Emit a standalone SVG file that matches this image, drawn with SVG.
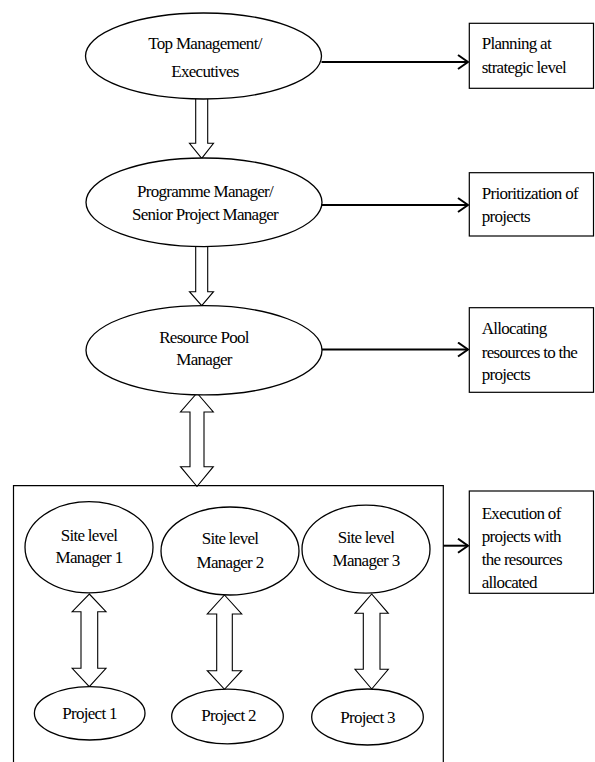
<svg xmlns="http://www.w3.org/2000/svg" width="595" height="762" viewBox="0 0 595 762">
<defs>
<style>
.t{font-family:'Liberation Serif','DejaVu Serif',serif;font-size:17px;letter-spacing:-0.7px;fill:#000}
.c{text-anchor:middle}
.n{fill:#fff;stroke:#000;stroke-width:1.3}
.b{fill:#fff;stroke:#000;stroke-width:1.2}
.blk{fill:#fff;stroke:#000;stroke-width:1.1;stroke-linejoin:miter}
.ln{fill:none;stroke:#000;stroke-width:2}
</style>
<marker id="ah" viewBox="0 0 12 16" refX="11" refY="8" markerWidth="12" markerHeight="16" markerUnits="userSpaceOnUse" orient="auto">
<path d="M1,1 L11,8 L1,15" fill="none" stroke="#000" stroke-width="2"/>
</marker>
</defs>
<rect width="595" height="762" fill="#fff"/>
<g id="connectors">
<polygon class="blk" points="195.7,95 207.7,95 207.7,143.3 213.5,143.3 201.7,158.3 189.5,143.3 195.7,143.3"/>
<polygon class="blk" points="195.7,240 207.7,240 207.7,291.7 213.5,291.7 201.7,305.7 189.5,291.7 195.7,291.7"/>
<polygon class="blk" points="197,393 213.3,412 204,412 204,466.7 213.3,466.7 197,486.5 180.5,466.7 190,466.7 190,412 180.5,412"/>
<polygon class="blk" points="89.3,594 106,611.7 97.7,611.7 97.7,668.3 106,668.3 89.3,686.7 72.2,668.3 81,668.3 81,611.7 72.2,611.7"/>
<polygon class="blk" points="224.5,595 241.7,614 232.3,614 232.3,670.7 241.7,670.7 224.5,689.3 207.3,670.7 216.7,670.7 216.7,614 207.3,614"/>
<polygon class="blk" points="371.7,594 388.3,613.3 380,613.3 380,669.3 388.3,669.3 371.7,689 355,669.3 363.3,669.3 363.3,613.3 355,613.3"/>
<line class="ln" x1="321.5" y1="62" x2="468" y2="62" marker-end="url(#ah)"/>
<line class="ln" x1="321.5" y1="205" x2="468" y2="205" marker-end="url(#ah)"/>
<line class="ln" x1="321.5" y1="349.5" x2="468" y2="349.5" marker-end="url(#ah)"/>
<line class="ln" x1="443.3" y1="545.7" x2="468" y2="545.7" marker-end="url(#ah)"/>
</g>
<g id="top-management">
<ellipse class="n" cx="203.5" cy="56" rx="118" ry="43"/>
<text class="t c" x="205" y="49">Top Management/</text>
<text class="t c" x="205" y="77">Executives</text>
</g>
<g id="programme-manager">
<ellipse class="n" cx="204" cy="202.3" rx="118" ry="44.3"/>
<text class="t c" x="205" y="196.5">Programme Manager/</text>
<text class="t c" x="205" y="219.5">Senior Project Manager</text>
</g>
<g id="resource-pool-manager">
<ellipse class="n" cx="204" cy="350.3" rx="118" ry="44.6"/>
<text class="t c" x="204" y="342.5">Resource Pool</text>
<text class="t c" x="204" y="365">Manager</text>
</g>
<g id="planning-box">
<rect class="b" x="469.3" y="23.3" width="124.2" height="65"/>
<text class="t" x="481.7" y="49">Planning at</text>
<text class="t" x="481.7" y="72.5">strategic level</text>
</g>
<g id="prioritization-box">
<rect class="b" x="469.3" y="172.7" width="124.2" height="63.3"/>
<text class="t" x="481.7" y="199">Prioritization of</text>
<text class="t" x="481.7" y="222">projects</text>
</g>
<g id="allocating-box">
<rect class="b" x="469.3" y="307.7" width="124.2" height="84.6"/>
<text class="t" x="481.7" y="334">Allocating</text>
<text class="t" x="481.7" y="357.5">resources to the</text>
<text class="t" x="481.7" y="380">projects</text>
</g>
<g id="site-container">
<path d="M13.5,762 V485.7 H443.3 V762" fill="none" stroke="#000" stroke-width="1.2"/>
</g>
<g id="execution-box">
<rect class="b" x="469.3" y="491" width="124.2" height="102.3"/>
<text class="t" x="481.7" y="519">Execution of</text>
<text class="t" x="481.7" y="542">projects with</text>
<text class="t" x="481.7" y="565">the resources</text>
<text class="t" x="481.7" y="588">allocated</text>
</g>
<g id="site-manager-1">
<ellipse class="n" cx="89" cy="547.3" rx="64" ry="45.6"/>
<text class="t c" x="89" y="541">Site level</text>
<text class="t c" x="89" y="563">Manager 1</text>
</g>
<g id="site-manager-2">
<ellipse class="n" cx="230" cy="551" rx="69" ry="44"/>
<text class="t c" x="230" y="544">Site level</text>
<text class="t c" x="230" y="567.5">Manager 2</text>
</g>
<g id="site-manager-3">
<ellipse class="n" cx="366" cy="549.2" rx="64" ry="44"/>
<text class="t c" x="366" y="542.5">Site level</text>
<text class="t c" x="366" y="566">Manager 3</text>
</g>
<g id="project-1">
<ellipse class="n" cx="89.7" cy="713.3" rx="55.3" ry="26.7"/>
<text class="t c" x="89.5" y="719">Project 1</text>
</g>
<g id="project-2">
<ellipse class="n" cx="227.5" cy="716.5" rx="55.8" ry="27.3"/>
<text class="t c" x="228.5" y="721">Project 2</text>
</g>
<g id="project-3">
<ellipse class="n" cx="367.5" cy="717" rx="55.8" ry="28"/>
<text class="t c" x="367.5" y="722.5">Project 3</text>
</g>
</svg>
